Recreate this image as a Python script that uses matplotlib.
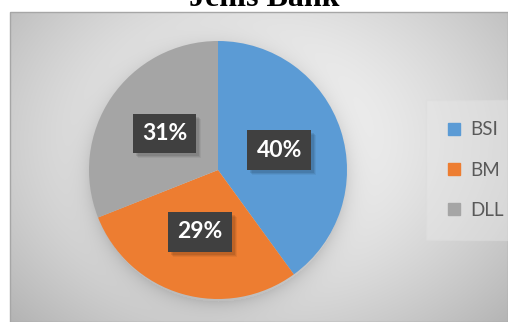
import numpy as np
import matplotlib
matplotlib.use("Agg")
import matplotlib.pyplot as plt
from matplotlib.patches import Rectangle
from matplotlib.lines import Line2D
from matplotlib.transforms import IdentityTransform

title = "Jenis Bank"
categories = ["BSI", "BM", "DLL"]
values = [40, 29, 31]
colors = ["#5B9BD5", "#ED7D31", "#A5A5A5"]

W, H = 508, 322
fig = plt.figure(figsize=(W / 100, H / 100), dpi=100)
fig.patch.set_facecolor("white")

# chart area background (radial gradient + pie shadow)
x0, y0top = 10, 12
bw, bh = W - x0, H - y0top
ax_bg = fig.add_axes([x0 / W, 0, bw / W, bh / H])
yy, xx = np.mgrid[0:bh, 0:bw]
px = xx + x0
py = yy + y0top
cx, cy = 262, 140
d = np.sqrt(((px - cx) / 300.0) ** 2 + ((py - cy) / 230.0) ** 2)
val = 0.965 - 0.21 * np.clip(d, 0, 1.3) ** 1.6
pcx, pcy, R = 218, 170, 129
dp = np.sqrt((px - pcx) ** 2 + (py - pcy - 4) ** 2)
shadow = np.where(dp > R - 2, np.exp(-(dp - R) / 10.0), 1.0) * 0.10
val = val - shadow
img = np.dstack([val, val, val])
ax_bg.imshow(np.clip(img, 0, 1), aspect="auto", interpolation="bilinear")
ax_bg.axis("off")
fig.add_artist(Rectangle((x0 / W, 0), bw / W, bh / H, transform=fig.transFigure,
                         fill=False, edgecolor="#a6a6a6", linewidth=1.0))

# pie
ax = fig.add_axes([(pcx - R) / W, (H - pcy - R) / H, 2 * R / W, 2 * R / H])
ax.set_facecolor("none")
wedges, texts, autotexts = ax.pie(
    values, colors=colors, startangle=90, counterclock=False,
    autopct="%1.0f%%", pctdistance=0.5, radius=1.0,
    wedgeprops=dict(linewidth=0),
    textprops=dict(color="white", fontsize=16.5, fontweight="bold", family="Lato"))
ax.set_xlim(-1, 1)
ax.set_ylim(-1, 1)
ax.set_aspect("equal")
ax.axis("off")
for t in autotexts:
    t.set_bbox(dict(boxstyle="square,pad=0.40", facecolor="#404040", edgecolor="none"))
    t.set_zorder(5)

# legend
handles = [Line2D([0], [0], marker="s", linestyle="none", markersize=9,
                  markerfacecolor=c, markeredgecolor=c) for c in colors]
leg = fig.legend(handles, categories, loc="center left",
                 bbox_to_anchor=(422 / W, 1 - 170 / H), frameon=True,
                 prop=dict(family="Lato", size=13.5), labelcolor="#595959",
                 handlelength=0.8, handletextpad=0.5, labelspacing=1.25,
                 borderpad=0.8)
leg.get_frame().set_facecolor("#e8e8e8")
leg.get_frame().set_edgecolor("#dcdcdc")
leg.get_frame().set_alpha(0.45)
leg.get_frame().set_boxstyle("square")

# title (partly clipped at top)
fig.text(264 / W, 1 - 6 / H, title, ha="center", va="baseline",
         family="Liberation Serif", fontweight="bold", fontsize=23)

# soft shadows behind the label boxes (drawn below the labels)
fig.canvas.draw()
renderer = fig.canvas.get_renderer()
for t in autotexts:
    bb = t.get_bbox_patch().get_window_extent(renderer)
    for k, a in [(5, 0.05), (4, 0.07), (3, 0.09)]:
        ax.add_artist(Rectangle((bb.x0 + k, bb.y0 - k), bb.width, bb.height,
                                transform=IdentityTransform(), facecolor="black",
                                edgecolor="none", alpha=a, zorder=4, clip_on=False))

fig.savefig("out.png", dpi=100)
